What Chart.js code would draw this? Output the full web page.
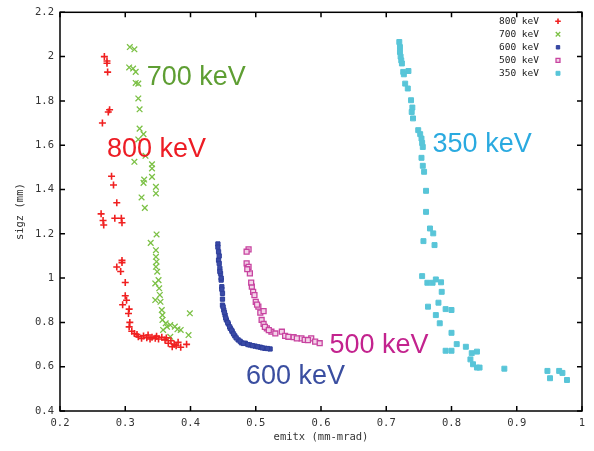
<!DOCTYPE html>
<html>
<head>
<meta charset="utf-8">
<script src="https://cdn.jsdelivr.net/npm/chart.js@4.4.1/dist/chart.umd.min.js"></script>
<style>
  html, body { margin: 0; padding: 0; background: #fff; }
  #wrap { width: 594px; height: 451px; }
</style>
</head>
<body>
<div id="wrap"><canvas id="emitChart" width="594" height="451"></canvas></div>
<script>
const energies = ["800 keV", "700 keV", "600 keV", "500 keV", "350 keV"];

// [emitx, sigz]
const pts800 = [
  [0.268, 2.0], [0.272, 1.98], [0.272, 1.97], [0.273, 1.93], [0.276, 1.76],
  [0.274, 1.75], [0.265, 1.7], [0.279, 1.46], [0.282, 1.42], [0.287, 1.34],
  [0.263, 1.29], [0.266, 1.26], [0.267, 1.24], [0.284, 1.27], [0.294, 1.27],
  [0.295, 1.25], [0.295, 1.08], [0.295, 1.07], [0.287, 1.05], [0.293, 1.03],
  [0.3, 0.98], [0.3, 0.92], [0.302, 0.9], [0.296, 0.88], [0.306, 0.86],
  [0.305, 0.84], [0.307, 0.8], [0.306, 0.78], [0.31, 0.76], [0.314, 0.75],
  [0.32, 0.735], [0.328, 0.739], [0.333, 0.731], [0.335, 0.743], [0.341, 0.733],
  [0.346, 0.728], [0.351, 0.725], [0.356, 0.733], [0.361, 0.721], [0.366, 0.706],
  [0.37, 0.717], [0.375, 0.701], [0.381, 0.71], [0.385, 0.688], [0.394, 0.701],
  [0.318, 0.745], [0.325, 0.728], [0.338, 0.725], [0.348, 0.738], [0.363, 0.73],
  [0.372, 0.69], [0.378, 0.695],
];
const pts700 = [
  [0.307, 2.043], [0.314, 2.033], [0.306, 1.951], [0.312, 1.946], [0.316, 1.931],
  [0.316, 1.881], [0.32, 1.878], [0.32, 1.811], [0.322, 1.762], [0.322, 1.675],
  [0.328, 1.65], [0.32, 1.626], [0.331, 1.552], [0.314, 1.525], [0.341, 1.514],
  [0.341, 1.495], [0.341, 1.457], [0.329, 1.445], [0.328, 1.43], [0.347, 1.412],
  [0.347, 1.382], [0.325, 1.364], [0.33, 1.317], [0.348, 1.197], [0.339, 1.159],
  [0.347, 1.126], [0.347, 1.096], [0.348, 1.074], [0.347, 1.051], [0.349, 1.029],
  [0.351, 0.991], [0.346, 0.976], [0.352, 0.954], [0.353, 0.924], [0.346, 0.901],
  [0.354, 0.893], [0.356, 0.856], [0.357, 0.833], [0.357, 0.811], [0.362, 0.796],
  [0.369, 0.788], [0.376, 0.781], [0.38, 0.769], [0.385, 0.766], [0.399, 0.841],
  [0.397, 0.743], [0.369, 0.735], [0.364, 0.78], [0.358, 0.766],
];
const pts600 = [
  [0.442, 1.154], [0.443, 1.119], [0.443, 1.081], [0.444, 1.066], [0.445, 1.044],
  [0.446, 1.021], [0.447, 0.991], [0.448, 0.961], [0.449, 0.931], [0.449, 0.878],
  [0.451, 0.856], [0.453, 0.833], [0.455, 0.811], [0.458, 0.793], [0.461, 0.773],
  [0.464, 0.758], [0.468, 0.739], [0.473, 0.721], [0.478, 0.708], [0.484, 0.706],
  [0.491, 0.698], [0.499, 0.693], [0.507, 0.688], [0.514, 0.683], [0.522, 0.68],
  [0.442, 1.14], [0.444, 1.1], [0.445, 1.03], [0.447, 1.0], [0.448, 0.95],
  [0.449, 0.905], [0.45, 0.87], [0.452, 0.845], [0.454, 0.82], [0.457, 0.8],
  [0.46, 0.78], [0.463, 0.765], [0.466, 0.748], [0.47, 0.73], [0.476, 0.715],
  [0.481, 0.705], [0.488, 0.7], [0.495, 0.695], [0.503, 0.69], [0.51, 0.685],
  [0.518, 0.682],
];
const pts500 = [
  [0.489, 1.13], [0.486, 1.119], [0.486, 1.067], [0.489, 1.051], [0.491, 1.021],
  [0.494, 0.961], [0.496, 0.938], [0.498, 0.923], [0.5, 0.893], [0.504, 0.871],
  [0.507, 0.844], [0.512, 0.851], [0.509, 0.811], [0.512, 0.793], [0.517, 0.773],
  [0.524, 0.758], [0.54, 0.758], [0.545, 0.739], [0.558, 0.733], [0.57, 0.728],
  [0.575, 0.721], [0.585, 0.728], [0.591, 0.713], [0.598, 0.706], [0.487, 1.04],
  [0.493, 0.98], [0.502, 0.88], [0.514, 0.78], [0.52, 0.765], [0.53, 0.75],
  [0.55, 0.735], [0.563, 0.728], [0.58, 0.72],
];
const pts350 = [
  [0.72, 2.066], [0.721, 2.043], [0.721, 2.021], [0.723, 1.983], [0.724, 1.969],
  [0.726, 1.931], [0.734, 1.935], [0.729, 1.878], [0.733, 1.856], [0.738, 1.803],
  [0.739, 1.75], [0.741, 1.721], [0.749, 1.668], [0.754, 1.63], [0.756, 1.592],
  [0.754, 1.543], [0.756, 1.507], [0.758, 1.48], [0.761, 1.394], [0.761, 1.299],
  [0.767, 1.224], [0.772, 1.202], [0.757, 1.167], [0.774, 1.149], [0.755, 1.009],
  [0.763, 0.979], [0.771, 0.979], [0.776, 0.994], [0.784, 0.981], [0.785, 0.938],
  [0.78, 0.889], [0.764, 0.871], [0.791, 0.86], [0.8, 0.856], [0.776, 0.833],
  [0.782, 0.796], [0.8, 0.753], [0.808, 0.702], [0.791, 0.672], [0.8, 0.672],
  [0.822, 0.69], [0.831, 0.661], [0.839, 0.668], [0.829, 0.633], [0.833, 0.611],
  [0.839, 0.596], [0.843, 0.596], [0.881, 0.591], [0.947, 0.581], [0.951, 0.548],
  [0.965, 0.581], [0.97, 0.572], [0.977, 0.54], [0.722, 2.0], [0.727, 1.92],
  [0.74, 1.77], [0.752, 1.65], [0.755, 1.61],
];

const xTicks = [0.2, 0.3, 0.4, 0.5, 0.6, 0.7, 0.8, 0.9, 1];
const yTicks = [0.4, 0.6, 0.8, 1, 1.2, 1.4, 1.6, 1.8, 2, 2.2];

// where the big coloured labels sit (data coords, left/baseline)
const labelEmit = [0.272, 0.333, 0.485, 0.613, 0.771];
const labelSigz = [1.546, 1.871, 0.522, 0.661, 1.568];
const labelColors = ["#ed1c24", "#5e9e33", "#3a4ea0", "#c3238e", "#2aaae0"];

const seriesPoints = [pts800, pts700, pts600, pts500, pts350];
const markerStyles = [
  { style: "cross", border: "#f02020", fill: "#f02020", radius: 3.5, width: 1.6 },
  { style: "crossRot", border: "#7cc146", fill: "#7cc146", radius: 4, width: 1.3 },
  { style: "rect", border: "#2e3f9c", fill: "#3a4aa6", radius: 3, width: 1 },
  { style: "rect", border: "#c844a0", fill: "#f3d3e8", radius: 3.5, width: 1.3 },
  { style: "rect", border: "#58c5d8", fill: "#58c5d8", radius: 3.5, width: 1 },
];

const axisFont = { family: "DejaVu Sans Mono", size: 10.5 };
const fmt = (v) => String(Number(v.toFixed(1)));

const framePlugin = {
  id: "frame",
  afterDraw(chart) {
    const { ctx, chartArea: a, scales } = chart;
    ctx.save();
    ctx.strokeStyle = "#000";
    ctx.lineWidth = 1.5;
    ctx.strokeRect(a.left, a.top, a.right - a.left, a.bottom - a.top);
    ctx.beginPath();
    xTicks.forEach((v) => {
      const px = scales.x.getPixelForValue(v);
      ctx.moveTo(px, a.bottom);
      ctx.lineTo(px, a.bottom - 5);
      ctx.moveTo(px, a.top);
      ctx.lineTo(px, a.top + 5);
    });
    yTicks.forEach((v) => {
      const py = scales.y.getPixelForValue(v);
      ctx.moveTo(a.left, py);
      ctx.lineTo(a.left + 5, py);
      ctx.moveTo(a.right, py);
      ctx.lineTo(a.right - 5, py);
    });
    ctx.stroke();

    // key, top right inside the frame
    ctx.font = "9.5px 'DejaVu Sans Mono'";
    ctx.textAlign = "right";
    ctx.textBaseline = "middle";
    chart.data.datasets.forEach((ds, i) => {
      const ly = a.top + 9 + i * 13;
      ctx.fillStyle = "#222";
      ctx.fillText(ds.label, a.right - 43, ly);
      ctx.fillStyle = ds.backgroundColor;
      ctx.strokeStyle = ds.borderColor;
      ctx.lineWidth = ds.pointBorderWidth;
      Chart.helpers.drawPoint(
        ctx,
        { pointStyle: ds.pointStyle, radius: ds.pointRadius * 0.8, borderWidth: ds.pointBorderWidth, rotation: 0 },
        a.right - 24,
        ly
      );
    });

    // energy labels
    ctx.font = "27px 'Liberation Sans'";
    ctx.textAlign = "left";
    ctx.textBaseline = "alphabetic";
    energies.forEach((name, i) => {
      ctx.fillStyle = labelColors[i];
      ctx.fillText(
        name,
        scales.x.getPixelForValue(labelEmit[i]),
        scales.y.getPixelForValue(labelSigz[i])
      );
    });
    ctx.restore();
  },
};

new Chart(document.getElementById("emitChart"), {
  type: "scatter",
  data: {
    datasets: energies.map((name, i) => ({
      label: name,
      data: seriesPoints[i].map((p) => ({ x: p[0], y: p[1] })),
      pointStyle: markerStyles[i].style,
      pointRadius: markerStyles[i].radius,
      pointBorderWidth: markerStyles[i].width,
      borderColor: markerStyles[i].border,
      backgroundColor: markerStyles[i].fill,
    })),
  },
  options: {
    responsive: false,
    animation: false,
    layout: { padding: { top: 12, right: 12, left: 0, bottom: 0 } },
    plugins: {
      legend: { display: false },
      tooltip: { enabled: false },
    },
    scales: {
      x: {
        type: "linear",
        min: 0.2,
        max: 1,
        afterFit: (scale) => { scale.height = 40; },
        afterBuildTicks: (scale) => { scale.ticks = xTicks.map((v) => ({ value: v })); },
        grid: { display: false, drawTicks: false },
        border: { display: false },
        ticks: {
          color: "#333",
          font: axisFont,
          padding: 6,
          maxRotation: 0,
          callback: (v) => fmt(v),
        },
        title: {
          display: true,
          text: "emitx (mm-mrad)",
          color: "#333",
          font: axisFont,
          padding: { top: 0, bottom: 7 },
        },
      },
      y: {
        type: "linear",
        min: 0.4,
        max: 2.2,
        afterFit: (scale) => { scale.width = 60; },
        afterBuildTicks: (scale) => { scale.ticks = yTicks.map((v) => ({ value: v })); },
        grid: { display: false, drawTicks: false },
        border: { display: false },
        ticks: {
          color: "#333",
          font: axisFont,
          padding: 6,
          callback: (v) => fmt(v),
        },
        title: {
          display: true,
          text: "sigz (mm)",
          color: "#333",
          font: axisFont,
          padding: { top: 14, bottom: 0 },
        },
      },
    },
  },
  plugins: [framePlugin],
});
</script>
</body>
</html>
